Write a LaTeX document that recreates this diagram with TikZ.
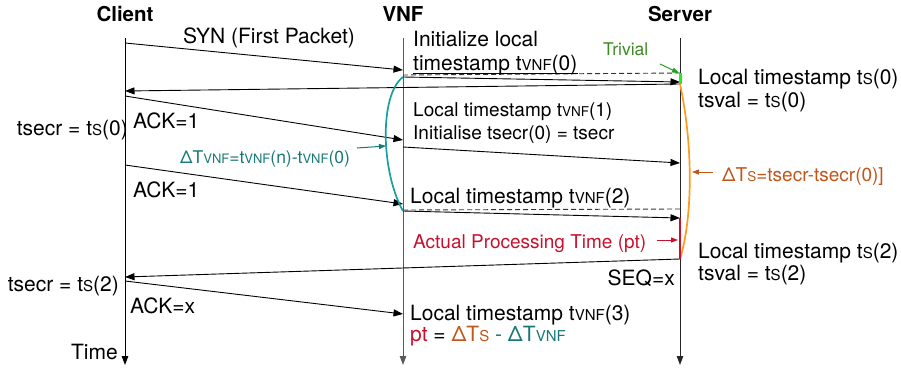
\documentclass[tikz,border=0pt]{standalone}
\usepackage{fontspec}
\setmainfont{TeX Gyre Heros}
\usetikzlibrary{arrows.meta}

% small letters used as index of a time stamp (t_VNF, t_S)
\newcommand\idx[1]{{\fontsize{15}{15}\selectfont #1}}
\newcommand\idxs[1]{{\fontsize{13.5}{13.5}\selectfont #1}}

\definecolor{curveteal}{HTML}{1A9E9E}
\definecolor{textteal}{HTML}{177878}
\definecolor{curveorange}{HTML}{FF9A1A}
\definecolor{textorange}{HTML}{C0561A}
\definecolor{textgreen}{HTML}{3C8A22}
\definecolor{arrowgreen}{HTML}{1FA01F}
\definecolor{brightgreen}{HTML}{22EE22}
\definecolor{crimson}{HTML}{C8102E}

\tikzset{
  lifeline/.style={line width=1pt, -{Triangle[length=9pt,width=6.5pt]}},
  msg/.style={line width=0.9pt, -{Triangle[length=9.5pt,width=7pt]}},
  pointer/.style={line width=1pt, -{Triangle[length=7pt,width=5pt]}},
  dashline/.style={line width=0.9pt, dash pattern=on 5pt off 3pt},
  txt/.style={font=\fontsize{21}{21}\selectfont, inner sep=0pt},
  midtxt/.style={font=\fontsize{19}{19}\selectfont, inner sep=0pt},
  smalltxt/.style={font=\fontsize{17.5}{17.5}\selectfont, inner sep=0pt},
  hdr/.style={font=\fontsize{20.5}{20.5}\selectfont\bfseries, inner sep=0pt, anchor=base},
}

\begin{document}
\begin{tikzpicture}[x=1pt,y=-1pt]
\useasboundingbox (0,0) rectangle (901,372);

% headers
\node[hdr] (hc) at (125,21) {Client};
\node[hdr] (hv) at (403,21) {VNF};
\node[hdr] (hs) at (680,21) {Server};

% lifeline end points
\coordinate (ctop) at (125,38); \coordinate (cbot) at (125,365);
\coordinate (vtop) at (403,38); \coordinate (vbot) at (403,365);
\coordinate (stop) at (680,38); \coordinate (sbot) at (680,365);
\draw[lifeline, black] (ctop) -- (cbot);
\draw[lifeline, black!65] (vtop) -- (vbot);
\draw[lifeline, black!85] (stop) -- (sbot);

% message end points
\coordinate (c1) at (125,43);  \coordinate (v1) at (403,70);
\coordinate (v2) at (403,77);  \coordinate (s2) at (680,82);
\coordinate (s3) at (680,84);  \coordinate (c3) at (125,91);
\coordinate (c4) at (125,96);  \coordinate (v4) at (403,140);
\coordinate (v5) at (403,147); \coordinate (s5) at (680,163);
\coordinate (c6) at (125,165); \coordinate (v6) at (403,204);
\coordinate (v7) at (403,211); \coordinate (s7) at (680,218);
\coordinate (s8) at (680,259); \coordinate (c8) at (125,277);
\coordinate (c9) at (125,281); \coordinate (v9) at (403,314);
% dashed reference lines
\coordinate (d1a) at (403,75); \coordinate (d1b) at (680,73);
\coordinate (d2a) at (403,210); \coordinate (d2b) at (680,209);

\draw[dashline, black!80] (d1a) -- (d1b);
\draw[dashline, black!80] (d2a) -- (d2b);

\draw[msg] (c1) -- (v1);
\draw[msg] (v2) -- (s2);
\draw[msg] (s3) -- (c3);
\draw[msg] (c4) -- (v4);
\draw[msg] (v5) -- (s5);
\draw[msg] (c6) -- (v6);
\draw[msg] (v7) -- (s7);
\draw[msg] (s8) -- (c8);
\draw[msg] (c9) -- (v9);

% measured intervals
\draw[curveteal, line width=1.7pt] (v2) .. controls (379,95) and (381,172) .. (v7);
\draw[curveorange, line width=1.7pt] (s3) .. controls (694,150) and (692,220) .. (s8);
\draw[brightgreen, line width=3pt] (d1b) -- (s3);
\draw[crimson, line width=2pt] (s7) -- (s8);

% message labels
\node[txt, anchor=base west] (syn) at (183,43) {SYN (First Packet)};
\node[txt, anchor=base west] (ack1) at (133,128) {ACK=1};
\node[txt, anchor=base west] (ack2) at (133,197) {ACK=1};
\node[txt, anchor=base west] (ackx) at (130,313) {ACK=x};
\node[txt, anchor=base east] (seq) at (675,285) {SEQ=x};

% client notes
\node[txt, anchor=base east] (tsecr0) at (128,135) {tsecr = t\idx{S}(0)};
\node[txt, anchor=base east] (tsecr2) at (119,291) {tsecr = t\idx{S}(2)};
\node[txt, anchor=base east] (time) at (118,359) {Time};

% VNF notes
\node[txt, anchor=base west] (init1) at (413,46) {Initialize local};
\node[txt, anchor=base west] (init2) at (413,70) {timestamp t\idx{VNF}(0)};
\draw[line width=0.7pt] ([yshift=-3pt]init2.base west) -- ([yshift=-3pt]init2.base east);
\node[midtxt, anchor=base west] (lt1) at (413,116) {Local timestamp t\idxs{VNF}(1)};
\node[midtxt, anchor=base west] (ini) at (413,139) {Initialise tsecr(0) = tsecr};
\node[txt, anchor=base west] (lt2) at (410,203) {Local timestamp t\idx{VNF}(2)};
\node[txt, anchor=base west] (lt3) at (410,320) {Local timestamp t\idx{VNF}(3)};
\node[txt, anchor=base west] (pt) at (410,341)
  {\textcolor{crimson}{pt} = \textcolor{textorange}{ΔT\idx{S}} \textcolor{textteal}{- ΔT\idx{VNF}}};

% server notes
\node[txt, anchor=base west] (ls0) at (698,84) {Local timestamp t\idx{S}(0)};
\node[txt, anchor=base west] (tv0) at (698,107) {tsval = t\idx{S}(0)};
\node[txt, anchor=base west] (ls2) at (698,258) {Local timestamp t\idx{S}(2)};
\node[txt, anchor=base west] (tv2) at (698,280) {tsval = t\idx{S}(2)};

% annotations
\node[smalltxt, anchor=base west, text=textgreen] (triv) at (603,55) {Trivial};
\coordinate (trivtail) at (660,64);
\coordinate (trivtip) at (679,73);
\draw[pointer, arrowgreen] (trivtail) -- (trivtip);

\node[smalltxt, anchor=base west, text=textteal] (dvnf) at (180,163)
  {ΔT{\fontsize{13}{13}\selectfont VNF}=t{\fontsize{13}{13}\selectfont VNF}(n)-t{\fontsize{13}{13}\selectfont VNF}(0)};
\coordinate (dvtail) at (357,148);
\coordinate (dvtip) at (386,146);
\draw[pointer, textteal] (dvtail) -- (dvtip);

\node[midtxt, anchor=base west, text=textorange] (dts) at (722,181)
  {ΔT\idxs{S}=tsecr-tsecr(0)]};
\coordinate (dstail) at (713,172);
\coordinate (dstip) at (692,172);
\draw[pointer, textorange] (dstail) -- (dstip);

\node[midtxt, anchor=base west, text=crimson] (apt) at (413,248) {Actual Processing Time (pt)};
\coordinate (pttail) at (657,240);
\coordinate (pttip) at (678,240);
\draw[pointer, crimson] (pttail) -- (pttip);
\end{tikzpicture}
\end{document}
